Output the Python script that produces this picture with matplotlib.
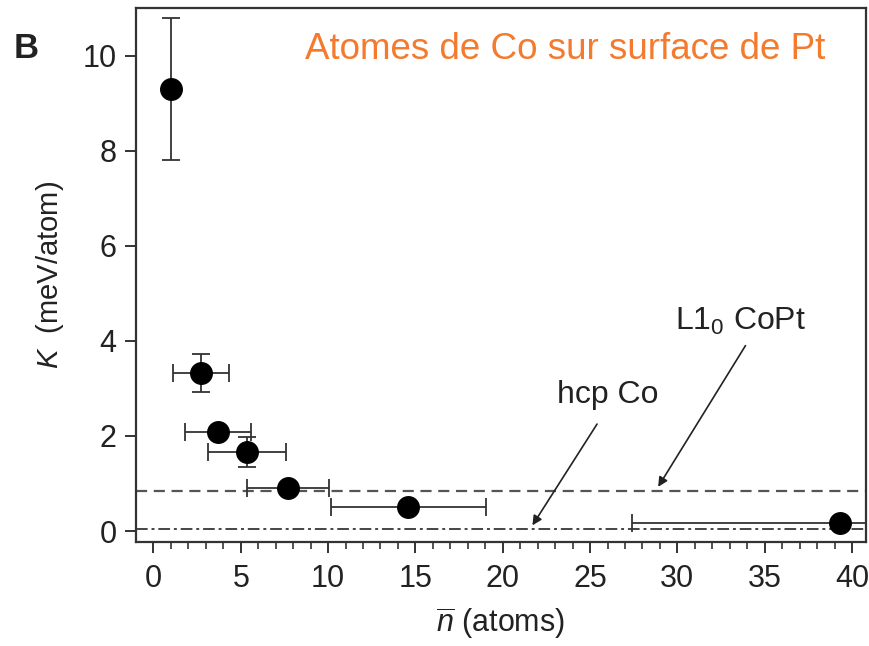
import matplotlib
matplotlib.use("Agg")
import matplotlib.pyplot as plt
import numpy as np

plt.rcParams['font.family'] = ['Liberation Sans', 'DejaVu Sans']
plt.rcParams['mathtext.fontset'] = 'custom'
plt.rcParams['mathtext.rm'] = 'Liberation Sans'
plt.rcParams['mathtext.it'] = 'Liberation Sans:italic'

# cluster size, anisotropy and their uncertainties
n_atoms = [1.0, 2.7, 3.7, 5.35, 7.7, 14.6, 39.3]
K_mev = [9.3, 3.33, 2.08, 1.66, 0.9, 0.5, 0.17]
n_err = [0.0, 1.6, 1.9, 2.25, 2.35, 4.45, 11.9]
K_err = [1.5, 0.4, 0.0, 0.32, 0.0, 0.0, 0.0]

# bulk reference values
K_copt = 0.85
K_hcp = 0.05

ink = '#222222'

fig = plt.figure(figsize=(8.7, 6.46), dpi=100)
ax = fig.add_axes([0.1563, 0.161, 0.8391, 0.8266])

ax.axhline(K_copt, color='#555555', lw=1.6, ls=(0, (5, 3)), zorder=1)
ax.axhline(K_hcp, color='#444444', lw=1.4, ls=(0, (6, 2, 1.5, 2)), zorder=1)

ax.errorbar(n_atoms, K_mev, xerr=n_err, yerr=K_err, fmt='o', color='black',
            ms=15.5, ecolor='#333333', elinewidth=1.3, capsize=6.5,
            capthick=1.3, zorder=3)

ax.set_xlim(-1, 40.8)
ax.set_ylim(-0.23, 11.0)
ax.set_xticks(np.arange(0, 41, 5))
ax.set_xticks(np.arange(0, 41, 1), minor=True)
ax.set_yticks(np.arange(0, 11, 2))

for s in ax.spines.values():
    s.set_color('#333333')
    s.set_linewidth(1.6)
ax.tick_params(axis='both', which='major', direction='out', length=8,
               width=1.4, color='#333333', labelsize=22, labelcolor=ink)
ax.tick_params(axis='x', which='minor', direction='out', length=5,
               width=1.2, color='#333333')
ax.tick_params(axis='y', pad=6)
ax.tick_params(axis='x', pad=8)

ax.set_xlabel(r'$\overline{n}$ (atoms)', fontsize=22, color=ink, labelpad=8)
ax.set_ylabel(r'$K$  (meV/atom)', fontsize=21, color=ink, labelpad=12)

# labels for the bulk values, with arrows pointing at their lines
arrow = dict(arrowstyle='-|>', color='#222222', lw=1.2, mutation_scale=14,
             shrinkA=0, shrinkB=0)
ax.text(26.0, 2.86, 'hcp Co', fontsize=23, color=ink, ha='center',
        va='center')
ax.annotate('', xy=(21.7, 0.12), xytext=(25.4, 2.25), arrowprops=arrow)
ax.text(33.6, 4.4, r'L1$_0$ CoPt', fontsize=23, color=ink, ha='center',
        va='center')
ax.annotate('', xy=(28.9, 0.93), xytext=(33.9, 3.9), arrowprops=arrow)

ax.text(0.944, 0.955, 'Atomes de Co sur surface de Pt', transform=ax.transAxes,
        ha='right', va='top', fontsize=26.5, color='#f47a2e')
fig.text(26 / 870, 1 - 48 / 646, 'B', fontsize=25, fontweight='bold',
         ha='center', va='center', color=ink)

fig.savefig('out.png', dpi=100)
